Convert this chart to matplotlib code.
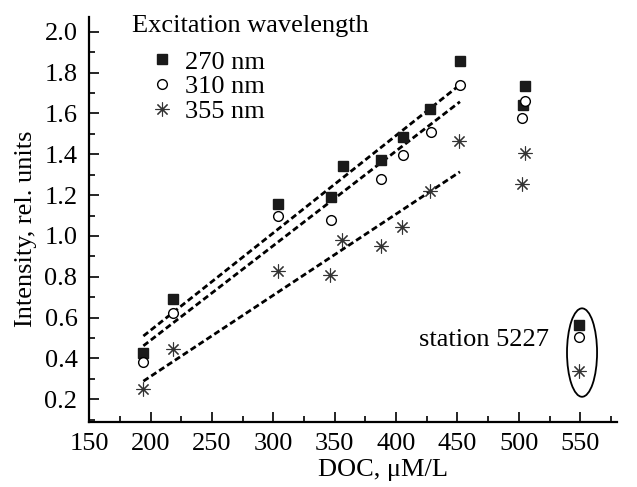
import numpy as np
import matplotlib
matplotlib.use("Agg")
import matplotlib.pyplot as plt
from matplotlib.patches import Ellipse

plt.rcParams['font.family'] = ['Liberation Serif', 'DejaVu Serif']

# DOC (uM/L) and intensity for each excitation wavelength
doc = [194, 218.5, 304, 347, 357, 387.6, 405.2, 427.8, 452.3, 503.1, 505.3]
i270 = [0.425, 0.691, 1.156, 1.192, 1.344, 1.372, 1.486, 1.621, 1.857, 1.641, 1.734]

doc_310 = [194, 218.5, 304, 347, 387.6, 405.2, 428.4, 451.7, 502.6, 505.3]
i310 = [0.381, 0.621, 1.099, 1.078, 1.279, 1.396, 1.51, 1.739, 1.576, 1.662]

doc_355 = [194, 218, 304, 346, 355.8, 387.6, 404.7, 427.8, 451, 502.6, 505.3]
i355 = [0.25, 0.444, 0.828, 0.808, 0.98, 0.952, 1.045, 1.22, 1.466, 1.253, 1.405]

# station 5227
st_doc = 549.3
st_vals = [0.564, 0.506, 0.338]

# dashed fit lines (end points)
fit_x = [194, 452]
fit_270 = [0.51, 1.74]
fit_310 = [0.462, 1.657]
fit_355 = [0.289, 1.314]

FS = 19

fig = plt.figure(figsize=(6.37, 4.87), dpi=100)
ax = fig.add_axes([89.4 / 637, 1 - 422 / 487, (617 - 89.4) / 637, (422 - 17) / 487])

dash = dict(color='black', lw=2.0, ls=(0, (2.2, 1.2)))
ax.plot(fit_x, fit_270, **dash)
ax.plot(fit_x, fit_310, **dash)
ax.plot(fit_x, fit_355, **dash)

sq = dict(marker='s', ms=7.2, color='#1a1a1a', ls='none', mec='#1a1a1a')
ci = dict(marker='o', ms=7, mfc='white', mec='black', mew=1.0, ls='none')
st = dict(marker=(8, 2, 0), ms=10, color='#333333', mew=0.8, ls='none')

ax.plot(doc, i270, label='270 nm', **sq)
ax.plot(doc_310, i310, label='310 nm', **ci)
ax.plot(doc_355, i355, label='355 nm', **st)

ax.plot(st_doc, st_vals[0], **sq)
ax.plot(st_doc, st_vals[1], **ci)
ax.plot(st_doc, st_vals[2], **st)
ax.add_patch(Ellipse((551.5, 0.429), 24.5, 0.433, fill=False, ec='black', lw=1.3))
ax.text(524.3, 0.49, 'station 5227', ha='right', va='center', fontsize=FS)

ax.set_xlim(150, 580)
ax.set_ylim(0.089, 2.072)
ax.set_xticks(np.arange(150, 551, 50))
ax.set_xticks(np.arange(175, 580, 25), minor=True)
ax.set_yticks(np.arange(0.2, 2.01, 0.2))
ax.set_yticks(np.arange(0.1, 2.07, 0.1), minor=True)
ax.yaxis.set_major_formatter(matplotlib.ticker.FormatStrFormatter('%.1f'))

for s in ['top', 'right']:
    ax.spines[s].set_visible(False)
for s in ['left', 'bottom']:
    ax.spines[s].set_linewidth(1.6)
ax.tick_params(which='both', direction='in', labelsize=FS, width=1.2)
ax.tick_params(axis='x', which='major', length=7, pad=8)
ax.tick_params(axis='y', which='major', length=7, pad=8.6)
ax.tick_params(which='minor', length=4)

ax.set_xlabel('DOC, μM/L', fontsize=FS)
ax.xaxis.label.set_va('center')
ax.xaxis.set_label_coords(0.5556, -0.1185)
ax.set_ylabel('Intensity, rel. units', fontsize=FS)
ax.yaxis.label.set_va('center')
ax.yaxis.set_label_coords(-0.12, 0.476)

ax.text(0.0802, 0.963, 'Excitation wavelength', transform=ax.transAxes,
        ha='left', va='baseline', fontsize=FS)
ax.legend(loc='upper left', frameon=False, fontsize=FS, handlelength=0.8,
          handletextpad=0.48, borderpad=0, borderaxespad=0, labelspacing=0.05,
          bbox_to_anchor=(0.1177, 0.918))

fig.savefig('out.png', dpi=100)
